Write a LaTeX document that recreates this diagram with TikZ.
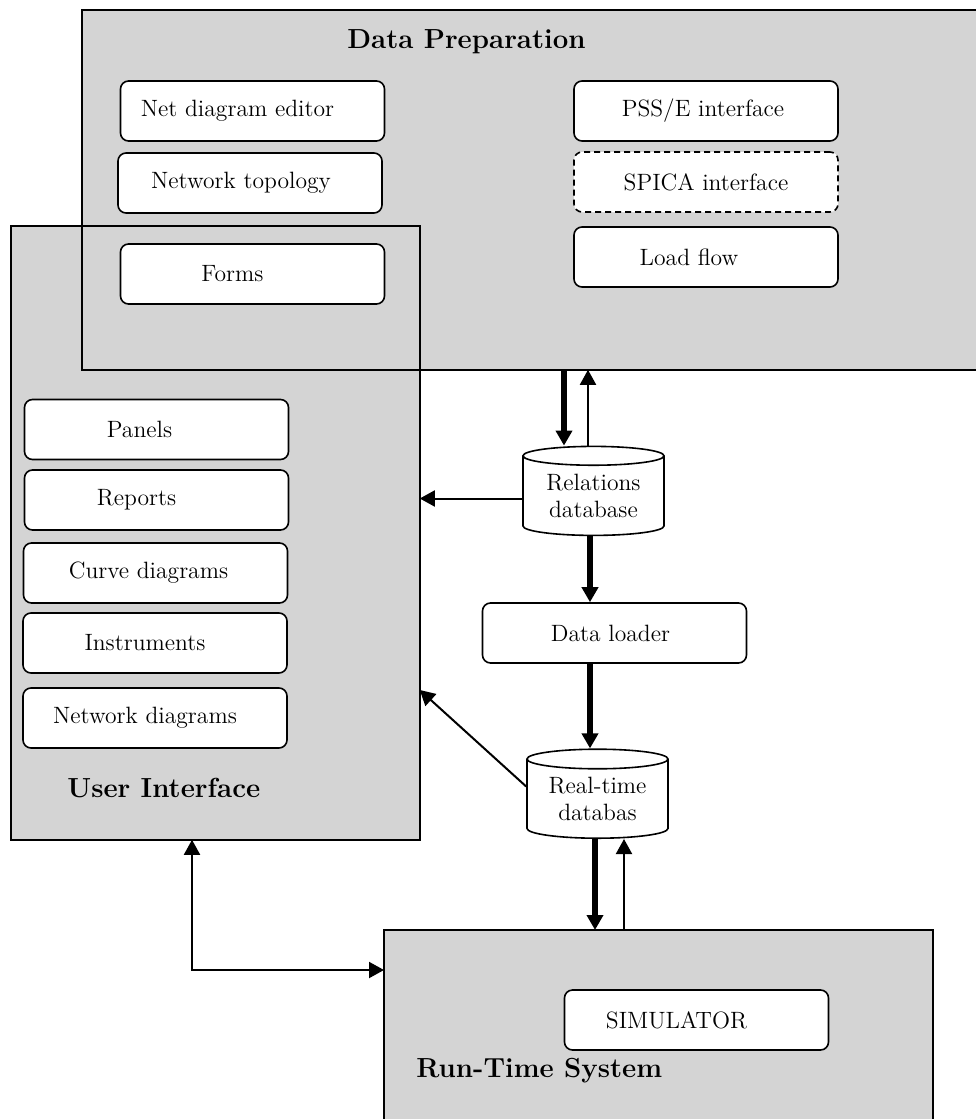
\documentclass[tikz,border=0pt]{standalone}
\usepackage{tikz}
\usetikzlibrary{arrows.meta,shapes.geometric}
\definecolor{panelgray}{RGB}{212,212,212}

\begin{document}
\begin{tikzpicture}[x=0.5pt,y=-0.5pt,
    font=\fontsize{11.8}{13.5}\selectfont,
    >={Triangle[length=7.5pt,width=8pt]},
    panel/.style={fill=panelgray,anchor=north west,inner sep=0pt},
    frame/.style={line width=1pt},
    item/.style={draw,fill=white,rounded corners=4pt,line width=0.8pt,minimum width=132pt,minimum height=30pt,inner sep=0pt},
    store/.style={cylinder,shape border rotate=90,draw,fill=white,aspect=0.2,line width=0.8pt,minimum width=70.5pt,minimum height=44.5pt,align=center,inner sep=0pt},
    title/.style={font=\fontsize{13.8}{16}\selectfont\bfseries,anchor=base west,inner sep=0pt},
    heavy/.style={line width=2.75pt,->},
    light/.style={line width=1pt,->}]
\useasboundingbox (0,0) rectangle (975,1119);
\path
(11,226) node[panel,minimum width=204pt,minimum height=306.5pt](ui) {}
(82,10) node[panel,minimum width=449pt,minimum height=179.5pt](dp) {}
(384,930) node[panel,minimum width=274pt,minimum height=97.5pt](rts) {};
\draw[frame] (ui.north west) rectangle (ui.south east);
\draw[frame] (dp.north west) rectangle (dp.south east);
\draw[frame] (rts.north west) rectangle (rts.south east);

\path
(347,48) node[title](dptitle) {Data Preparation}
(67,797) node[title](uititle) {User Interface}
(416,1077) node[title](rtstitle) {Run-Time System}
(252.5,111) node[item](editor) {Net diagram editor\hspace*{15pt}}
(250,183) node[item](topology) {Network topology\hspace*{9pt}}
(252.5,274) node[item](forms) {Forms\hspace*{20pt}}
(706,111) node[item](psse) {PSS/E interface\hspace*{3pt}}
(706,182) node[item,dash pattern=on 3pt off 2pt](spica) {SPICA interface}
(706,257) node[item](loadflow) {Load flow\hspace*{17pt}}
(156.5,429.5) node[item](panels) {Panels\hspace*{17pt}}
(156.5,500) node[item](reports) {Reports\hspace*{20pt}}
(155.5,573) node[item](curves) {Curve diagrams\hspace*{7pt}}
(155,643) node[item](instruments) {Instruments\hspace*{10pt}}
(155,718) node[item](netdiagrams) {Network diagrams\hspace*{10pt}}
(614.5,633) node[item](loader) {Data loader\hspace*{4pt}}
(696.5,1020) node[item](simulator) {SIMULATOR\hspace*{20pt}}
(593.5,496) node[store](rel) {Relations\\database}
(597.5,799) node[store](rtdb) {Real-time\\databas};

\draw[heavy] (564,0 |- dp.south) -- (564,0 |- rel.north);
\draw[light] (588,0 |- rel.north) -- (588,0 |- dp.south);
\draw[light] ([yshift=-1.25pt]rel.west) -- ([yshift=-1.25pt]rel.west -| ui.east);
\draw[heavy] (590,0 |- rel.south) -- (590,0 |- loader.north);
\draw[heavy] (590,0 |- loader.south) -- (590,0 |- rtdb.north);
\draw[light] ([yshift=6.25pt]rtdb.west) -- (ui.east |- 0,690);
\draw[heavy] (595,0 |- rtdb.south) -- (595,0 |- rts.north);
\draw[light] (624,0 |- rts.north) -- (624,0 |- rtdb.south);
\draw[light,<->] (192,0 |- ui.south) |- (rts.west |- 0,970);
\end{tikzpicture}
\end{document}
